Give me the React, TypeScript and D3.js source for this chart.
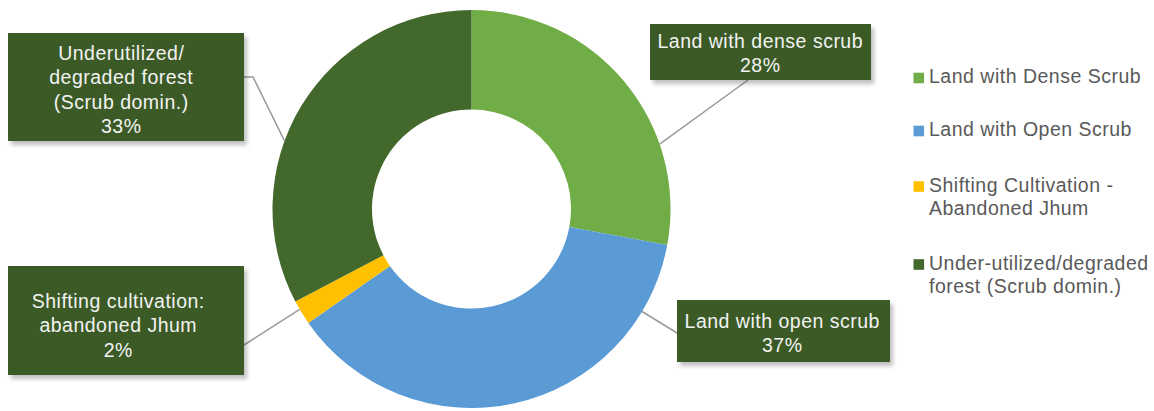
import React from "react";
import * as d3 from "d3";

const categories = [
  "Land with Dense Scrub",
  "Land with Open Scrub",
  "Shifting Cultivation - Abandoned Jhum",
  "Under-utilized/degraded forest (Scrub domin.)",
];
const values = [27.9, 37.4, 2.0, 32.7];
const sliceColors = ["#70AD47", "#5B9BD5", "#FFC000", "#43682B"];
const labelLines = [
  ["Land with dense scrub", "28%"],
  ["Land with open scrub", "37%"],
  ["Shifting cultivation:", "abandoned Jhum", "2%"],
  ["Underutilized/", "degraded forest", "(Scrub domin.)", "33%"],
];
const legendLines = [
  ["Land with Dense Scrub"],
  ["Land with Open Scrub"],
  ["Shifting Cultivation -", "Abandoned Jhum"],
  ["Under-utilized/degraded", "forest (Scrub domin.)"],
];

// layout
const W = 1154, H = 411;
const cx = 471.5, cy = 209;
const rOuter = 199, rInner = 99.5;
const boxes = [
  { x: 650, y: 24, w: 221, h: 56, tx: 760, ty0: 41, anchorDeg: 71, elbow: [748, 80] },
  { x: 677, y: 300, w: 213, h: 62, tx: 782, ty0: 321, anchorDeg: 121, elbow: [677, 333] },
  { x: 8, y: 266, w: 236, h: 109, tx: 118, ty0: 301, anchorDeg: 239.7, elbow: [244, 345], elbow2: null },
  { x: 8, y: 33, w: 236, h: 108, tx: 121, ty0: 53, anchorDeg: 290, elbow: [253, 77], elbow2: [244, 77] },
];
const legendY = [78, 131, 186.5, 264.5];

const FONT = "Liberation Sans, Arial, sans-serif";
const FS = 19.5;
const LS = 0.5;

export default function App() {
  const pie = d3.pie<number>().sort(null).value((d) => d).startAngle(0).endAngle(2 * Math.PI);
  const arcs = pie(values);
  const arcGen = d3.arc<d3.PieArcDatum<number>>().innerRadius(rInner).outerRadius(rOuter);
  const lineGen = d3.line();

  return (
    <svg width={W} height={H} style={{ position: "absolute", left: 0, top: 0, fontFamily: FONT }}>
      <defs>
        <filter id="sh" x="-10%" y="-10%" width="130%" height="140%">
          <feGaussianBlur in="SourceAlpha" stdDeviation="2" />
          <feOffset dx="3" dy="4" result="b" />
          <feComponentTransfer>
            <feFuncA type="linear" slope="0.25" />
          </feComponentTransfer>
          <feMerge>
            <feMergeNode />
            <feMergeNode in="SourceGraphic" />
          </feMerge>
        </filter>
      </defs>
      <rect width={W} height={H} fill="#fff" />
      <g transform={`translate(${cx},${cy})`}>
        {arcs.map((a, i) => (
          <path key={i} d={arcGen(a) || ""} fill={sliceColors[i]} />
        ))}
      </g>
      {boxes.map((b, i) => {
        const rad = (b.anchorDeg * Math.PI) / 180;
        const ax = cx + rOuter * Math.sin(rad);
        const ay = cy - rOuter * Math.cos(rad);
        const pts: [number, number][] = [[ax, ay], b.elbow as [number, number]];
        if (b.elbow2) pts.push(b.elbow2 as [number, number]);
        return (
          <path key={"l" + i} d={lineGen(pts) || ""} fill="none" stroke="#9a9a9a" strokeWidth={1.5} />
        );
      })}
      {boxes.map((b, i) => (
        <g key={"b" + i}>
          <rect x={b.x} y={b.y} width={b.w} height={b.h} fill="#3A5A27" filter="url(#sh)" />
          {labelLines[i].map((t, j) => (
            <text
              key={j}
              x={b.tx + LS / 2}
              y={b.ty0 + j * 24.5}
              dy="0.35em"
              textAnchor="middle"
              fill="#F2F2F2"
              fontSize={FS}
              letterSpacing={LS}
            >
              {t}
            </text>
          ))}
        </g>
      ))}
      {categories.map((c, i) => (
        <g key={"lg" + i}>
          <rect x={913.5} y={legendY[i] - 5.3} width={10.6} height={10.6} fill={sliceColors[i]} />
          {legendLines[i].map((t, j) => (
            <text
              key={j}
              x={929}
              y={legendY[i] - 1.5 + j * 23.5}
              dy="0.35em"
              fill="#595959"
              fontSize={FS}
              letterSpacing={LS}
            >
              {t}
            </text>
          ))}
        </g>
      ))}
    </svg>
  );
}
